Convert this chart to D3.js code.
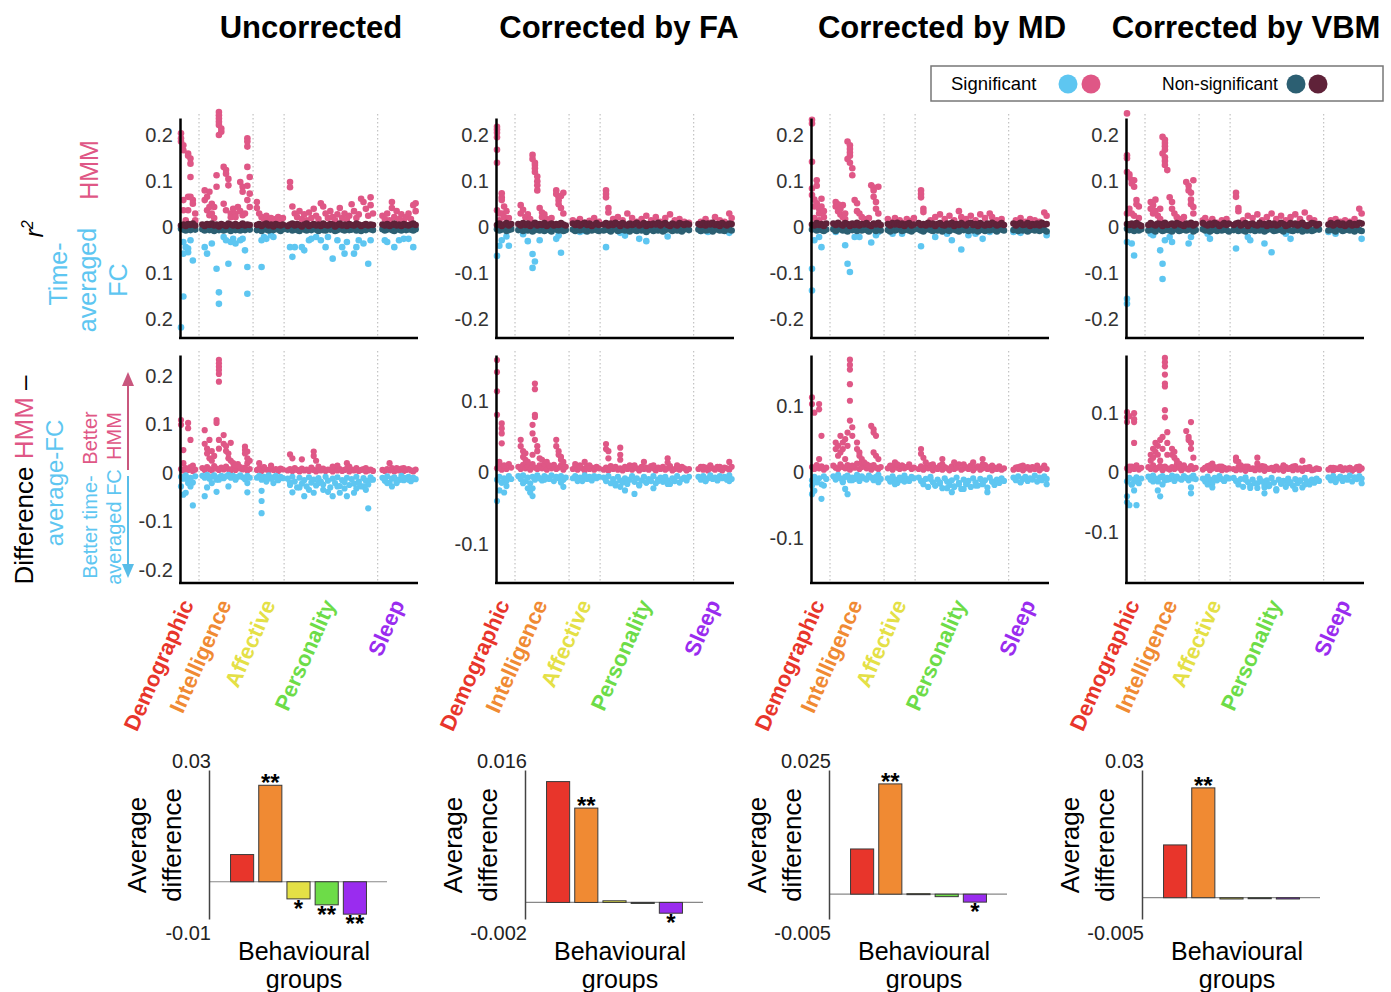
<!DOCTYPE html>
<html lang="en">
<head>
<meta charset="utf-8">
<script src="https://cdn.jsdelivr.net/npm/d3@7"></script>
<style>
    body { margin: 0; background: #fff; }
    svg text { font-family: "Liberation Sans", Arial, Helvetica, sans-serif; }
</style>
</head>
<body>
<svg id="fig" width="1391" height="992"></svg>
<script>
    // ---------- labels ----------
    const titles = ["Uncorrected", "Corrected by FA", "Corrected by MD", "Corrected by VBM"];
    const groups = ["Demographic", "Intelligence", "Affective", "Personality", "Sleep"];
    const groupColors = ["#e8352b", "#f08a33", "#e4e046", "#6ddc48", "#9a2cef"];
    // first / last item index of every behavioural group (x axis runs 0..100)
    const groupSpans = [[0, 6], [9, 29], [32, 43], [45, 81], [85, 99]];
    const dividers = [7.6, 30.4, 43.5, 83];

    // ---------- Uncorrected (values x1000) ----------
    const ucSigHmm = [[0,204],[0,193],[0,186],[1,178],[1,167],[1,59],[1,37],[2,15],[3,160],[3,155],[3,37],[4,149],[4,138],[4,109],[3,66],[5,59],[5,51],[4,66],[6,15],[6,30],
        [10,80],[10,59],[11,66],[11,37],[12,77],[12,44],[12,26],[13,51],[13,30],[14,44],[14,20],
        [16,250],[16,243],[16,236],[16,229],[16,222],[17,214],[17,207],[16,200],[15,113],[15,88],
        [18,131],[19,124],[19,116],[20,105],[20,91],[18,51],[19,37],[21,30],[21,22],
        [22,40],[23,30],[23,22],[24,44],[25,35],[25,98],[26,88],[26,77],[26,26],[27,30],
        [28,193],[28,186],[28,175],[28,131],[29,109],[28,90],[29,73],[28,59],[29,44],
        [32,55],[32,42],[33,30],[34,22],[35,18],[36,25],[37,15],[38,20],[39,12],[40,18],[41,22],[42,15],[43,20],
        [46,98],[46,87],[47,45],[48,30],[49,22],[50,35],[51,18],[52,28],[53,15],[54,32],[55,20],[56,40],[57,25],[58,18],[59,52],[60,45],[61,30],[62,20],[63,35],[64,22],[65,15],[66,28],[67,42],[68,20],[69,30],[70,18],[71,25],[72,50],[73,35],[74,20],[75,28],[76,62],[77,55],[78,40],[79,25],[80,65],[80,48],[81,30],
        [85,25],[86,18],[87,30],[88,15],[89,55],[89,42],[90,22],[91,35],[92,18],[93,28],[94,15],[95,22],[96,30],[97,18],[98,48],[99,52],[99,35]];
    const ucSigFc = [[0,217],[1,150],[1,32],[2,43],[3,54],[3,46],[5,72],[1,57],[4,28],
        [10,43],[11,57],[13,35],[15,90],[16,141],[16,166],[18,21],[19,28],[20,79],[21,32],[22,25],[23,35],[25,28],[27,50],[28,86],[28,144],[26,25],
        [34,86],[34,28],[35,21],[36,25],[38,17],[39,21],
        [46,43],[47,64],[48,43],[51,43],[52,50],[54,28],[55,25],[57,21],[59,28],[61,43],[62,21],[64,68],[66,28],[68,43],[69,57],[70,32],[73,57],[74,43],[75,28],[77,35],[79,79],[80,28],
        [86,28],[87,32],[90,43],[92,28],[94,25],[96,25],[98,43]];
    const ucNsHmm = [4,6,3,7,5,8,4,
        6,3,7,5,8,4,6,2,7,5,3,8,6,4,7,3,5,8,4,6,5,
        5,7,3,6,8,4,6,2,7,5,4,6,
        3,6,8,4,7,5,2,6,8,3,5,7,4,6,3,8,5,4,7,6,2,5,8,4,6,3,7,5,4,8,6,3,5,7,4,6,5,
        6,4,7,3,5,8,4,6,3,7,5,4,6,8,5];
    const ucNsFc = [3,5,7,4,6,3,5,
        4,7,3,6,5,8,4,6,3,7,5,4,8,3,6,5,7,4,6,3,5,
        6,4,8,3,5,7,4,6,3,5,8,4,
        5,3,7,4,6,8,3,5,7,4,6,3,5,8,4,6,7,3,5,4,8,6,3,5,7,4,6,5,3,7,4,8,5,6,3,4,6,
        4,7,5,3,6,8,4,5,7,3,6,4,5,7,4];
    const ucDiff = [[0,109],[0,99],[1,47],[1,20],[3,103],[3,92],[4,68],[5,15],[0,-28],[1,-45],[2,-41],[3,-21],[4,-28],[5,-67],[4,-14],
        [10,88],[10,60],[11,50],[11,40],[12,68],[12,30],[13,45],[13,25],[14,35],
        [16,233],[16,226],[16,219],[16,212],[16,204],[16,188],[15,109],[15,103],[16,68],[16,50],
        [18,78],[18,60],[19,55],[19,45],[20,40],[20,30],[21,62],[21,25],[22,20],[23,15],[24,18],[25,12],
        [27,54],[27,47],[27,40],[28,44],[28,30],[28,20],[29,25],
        [10,-48],[11,-30],[13,-21],[15,-39],[16,-14],[20,-28],[23,-14],[28,-40],[28,-21],
        [33,20],[35,12],[38,15],[34,-37],[34,-58],[34,-83],[36,-10],[39,-21],[41,-14],
        [46,38],[47,30],[51,28],[56,44],[56,35],[57,25],[58,13],[64,13],[66,15],[70,20],[71,13],[78,10],
        [46,-20],[47,-40],[50,-30],[52,-48],[54,-35],[56,-41],[58,-21],[60,-35],[62,-39],[64,-48],[66,-28],[67,-41],[69,-32],[70,-48],[73,-41],[74,-32],[75,-21],[77,-28],[78,-35],[79,-73],[80,-14],
        [88,20],[91,10],[94,10],[86,-14],[87,-21],[89,-28],[91,-21],[93,-14],[94,-10],[96,-14],[98,-10]];
    const ucBandPos = [8,5,10,6,12,4,7,
        10,6,12,8,5,14,9,6,11,7,13,8,5,10,6,12,9,7,11,5,8,
        6,9,4,11,7,5,10,6,8,4,9,7,
        5,8,4,10,6,3,9,5,7,4,11,6,3,8,5,9,4,7,6,3,10,5,8,4,6,9,3,7,5,10,4,6,8,3,5,7,4,
        6,4,8,5,10,3,7,5,9,4,6,8,5,3,7];
    const ucBandNeg = [-8,-12,-5,-15,-10,-20,-7,
        -6,-10,-4,-12,-8,-5,-14,-9,-6,-11,-7,-4,-10,-6,-12,-8,-5,-9,-13,-6,-10,
        -10,-6,-14,-8,-18,-5,-12,-9,-6,-15,-8,-11,
        -12,-25,-8,-18,-30,-10,-22,-15,-28,-9,-20,-14,-26,-11,-18,-24,-8,-16,-30,-12,-21,-9,-27,-15,-19,-10,-25,-13,-22,-8,-18,-28,-11,-16,-24,-9,-14,
        -10,-16,-7,-20,-12,-9,-18,-14,-6,-15,-11,-8,-17,-10,-13];

    // ---------- Corrected by FA ----------
    const faSigHmm = [[0,218],[0,212],[0,205],[0,195],[0,168],[0,140],[0,37],[1,30],[2,74],[2,65],[2,59],[3,45],[2,30],[3,22],[4,35],[5,20],[1,15],
        [10,48],[10,30],[11,38],[12,22],[13,28],[14,18],[15,157],[15,148],[16,140],[16,135],[16,128],[16,120],[17,110],[17,100],[17,91],[17,80],[18,42],[19,32],[19,22],[20,28],[21,18],[22,15],[23,20],[25,80],[25,72],[26,65],[26,58],[26,50],[27,42],[27,68],[28,75],[28,30],
        [32,15],[34,12],[35,18],[37,10],[39,14],[41,20],[43,12],
        [46,80],[46,72],[46,65],[47,42],[47,32],[49,18],[51,22],[53,15],[55,30],[57,20],[59,12],[61,18],[63,25],[65,15],[67,22],[69,12],[71,20],[73,28],[75,15],[77,18],[79,12],[81,10],
        [86,12],[88,18],[90,10],[92,22],[94,15],[96,12],[98,30],[99,20]];
    const faSigFc = [[0,62],[1,40],[2,28],[5,40],[4,20],
        [11,15],[13,30],[15,58],[16,74],[15,88],[18,28],[25,25],[26,18],[27,55],
        [35,10],[37,8],
        [46,43],[52,12],[54,18],[60,25],[63,30],[72,20],
        [86,8],[89,10],[98,12]];
    const faNsHmm = [5,8,3,6,9,4,7,
        7,4,9,5,8,3,6,10,4,7,5,9,3,6,8,4,7,5,9,6,4,
        8,5,9,4,7,10,5,8,3,6,9,5,
        6,9,4,8,5,10,7,3,9,6,4,8,5,7,10,4,6,9,3,7,5,8,6,10,4,7,9,5,3,8,6,4,9,7,5,8,6,
        7,5,9,4,8,6,10,5,7,3,9,6,4,8,7];
    const faNsFc = [4,7,5,3,8,6,4,
        6,3,8,5,7,4,9,6,3,7,5,8,4,6,9,3,5,7,4,8,6,
        5,8,4,7,3,6,9,5,7,4,6,8,
        7,4,6,9,5,3,8,6,4,7,5,9,3,6,8,4,7,5,10,6,3,8,5,7,4,9,6,3,5,8,4,7,6,9,5,3,6,
        5,8,4,7,6,3,9,5,4,7,6,8,3,5,7];
    const faDiff = [[0,158],[0,141],[0,114],[0,81],[2,69],[2,62],[2,55],[2,41],[1,15],[3,10],[0,-40],[1,-25],[2,-14],[3,-28],[4,-19],
        [10,46],[10,37],[11,30],[11,22],[12,27],[12,18],[13,15],
        [16,125],[16,117],[16,81],[16,78],[15,67],[15,55],[16,46],[17,37],[17,30],[15,25],[18,20],
        [19,18],[20,12],[21,15],[22,10],
        [25,46],[25,37],[26,30],[26,25],[27,22],[27,18],[28,15],
        [11,-15],[13,-22],[14,-28],[15,-33],[15,-22],[18,-8],[20,-10],[27,-14],[28,-20],
        [33,12],[35,8],[37,15],[39,10],[34,-10],[36,-12],[40,-8],
        [46,40],[46,33],[47,30],[47,20],[52,35],[52,25],[52,18],[56,10],[62,15],[66,10],[72,20],[72,14],[76,10],
        [50,-15],[52,-20],[54,-25],[55,-12],[58,-30],[60,-18],[63,-14],[66,-22],[68,-12],[72,-16],
        [87,8],[90,10],[94,8],[98,15],[88,-12],[93,-10],[98,-12]];
    const faBandPos = [6,10,4,8,5,12,7,
        8,5,11,6,9,4,12,7,5,10,6,8,4,9,6,11,5,7,10,4,8,
        5,8,4,10,6,3,9,5,7,4,8,6,
        4,7,3,9,5,8,4,6,3,8,5,7,4,10,6,3,8,5,7,4,9,6,3,7,5,8,4,6,9,3,5,7,4,8,6,3,5,
        5,8,4,7,3,9,6,4,8,5,3,7,6,4,8];
    const faBandNeg = [-10,-6,-14,-8,-12,-5,-9,
        -5,-9,-4,-12,-7,-15,-6,-10,-4,-8,-11,-5,-7,-9,-4,-12,-6,-8,-5,-10,-7,
        -8,-5,-12,-7,-10,-4,-9,-6,-11,-5,-8,-6,
        -7,-12,-5,-15,-9,-18,-6,-11,-14,-8,-16,-10,-5,-13,-8,-17,-11,-6,-14,-9,-12,-5,-15,-10,-7,-13,-6,-11,-16,-8,-12,-5,-14,-9,-7,-11,-6,
        -6,-10,-5,-12,-8,-4,-9,-7,-11,-5,-8,-6,-10,-4,-9];

    // ---------- Corrected by MD ----------
    const mdSigHmm = [[0,233],[0,225],[0,142],[0,84],[0,70],[1,60],[1,45],[2,102],[2,90],[2,52],[3,40],[3,30],[4,62],[4,45],[5,35],[5,22],[1,20],[3,15],
        [10,55],[10,45],[11,50],[11,35],[12,40],[12,28],[13,48],[13,22],[14,30],[14,18],
        [15,186],[16,178],[16,170],[16,162],[16,155],[15,148],[16,140],[17,128],[17,113],
        [18,59],[19,52],[19,35],[20,30],[21,22],[22,18],[23,15],[24,20],
        [25,91],[26,86],[26,80],[26,66],[27,55],[27,40],[28,88],[28,30],
        [32,18],[33,12],[35,20],[37,15],[38,10],[40,18],[42,14],[43,20],
        [46,80],[46,72],[46,65],[47,40],[47,33],[50,15],[52,22],[54,28],[56,18],[58,25],[60,15],[62,35],[63,22],[65,18],[67,25],[69,15],[71,28],[73,20],[75,30],[76,22],[78,15],[80,18],
        [86,15],[88,20],[90,12],[92,18],[94,15],[96,12],[98,32],[99,25]];
    const mdSigFc = [[0,90],[0,137],[1,28],[3,21],[4,43],
        [10,10],[14,39],[15,79],[16,97],[18,21],[20,21],[25,33],[27,17],[28,10],
        [34,14],[38,14],
        [46,41],[52,21],[57,14],[59,28],[63,48],[66,17],[69,14],[72,25],[75,10],
        [85,10],[88,12],[99,17]];
    const mdNsHmm = [6,4,9,5,7,3,8,
        8,5,10,6,4,9,7,3,8,5,10,4,7,6,9,5,3,8,6,10,5,
        7,4,9,6,10,5,8,3,7,9,4,6,
        9,5,7,4,10,6,8,3,7,9,5,4,8,6,10,3,7,5,9,6,4,8,10,5,7,3,9,6,4,8,5,10,7,4,6,9,5,
        8,4,7,10,5,6,9,3,7,5,8,4,10,6,7];
    const mdNsFc = [5,3,7,4,6,8,5,
        4,8,5,3,7,6,9,4,6,3,8,5,7,4,6,9,3,5,8,4,7,
        6,9,4,7,5,3,8,6,4,7,9,5,
        4,7,9,5,3,6,8,4,7,5,9,3,6,8,4,5,7,9,3,6,4,8,5,7,3,9,6,4,8,5,7,3,6,9,4,5,7,
        6,3,8,5,7,4,9,6,3,7,5,8,4,6,9];
    const mdDiff = [[0,113],[0,103],[1,90],[3,103],[3,95],[4,55],[3,20],[0,-20],[0,-33],[1,-28],[2,-15],[4,-40],[5,-20],
        [10,45],[10,35],[11,40],[11,25],[12,55],[12,30],[13,45],[13,35],[14,50],[14,20],[15,60],[15,40],
        [16,170],[16,162],[16,155],[16,133],[16,108],[16,78],[17,68],[17,55],[17,10],
        [19,45],[19,35],[20,30],[20,25],[21,20],[21,15],[22,15],[23,12],[24,10],
        [25,70],[26,65],[26,60],[27,55],[26,30],[27,25],[28,20],
        [10,-10],[13,-15],[14,-25],[15,-33],[17,-12],[19,-8],[27,-10],[28,-15],
        [33,10],[35,15],[36,12],[38,10],[40,8],[33,-12],[35,-18],[37,-10],[39,-14],
        [46,35],[46,28],[47,22],[48,15],[51,12],[55,20],[55,12],[60,15],[64,12],[68,15],[72,20],[72,12],[76,10],
        [50,-10],[52,-20],[54,-15],[57,-24],[59,-30],[60,-22],[62,-18],[64,-25],[65,-14],[69,-20],[72,-18],[74,-30],[76,-14],
        [87,8],[89,10],[93,8],[98,10],[88,-15],[92,-10],[99,-18]];
    const mdBandPos = [8,5,11,6,9,4,7,
        10,7,5,12,8,6,11,4,9,7,13,5,8,10,6,9,4,11,7,5,8,
        6,9,4,11,7,5,10,6,8,12,5,7,
        5,9,4,8,6,11,3,7,5,10,4,8,6,3,9,5,7,12,4,6,8,5,10,3,7,9,4,6,11,5,8,3,7,5,9,4,6,
        4,7,5,9,3,6,8,4,7,5,10,3,6,8,5];
    const mdBandNeg = [-12,-7,-15,-9,-18,-6,-10,
        -6,-11,-4,-9,-14,-7,-5,-12,-8,-10,-4,-13,-6,-9,-11,-5,-8,-12,-7,-4,-10,
        -9,-14,-6,-11,-16,-8,-12,-5,-10,-13,-7,-9,
        -8,-13,-18,-10,-22,-7,-15,-20,-11,-17,-24,-9,-14,-19,-12,-21,-8,-16,-25,-11,-18,-13,-22,-9,-15,-20,-10,-17,-12,-23,-8,-14,-19,-11,-16,-9,-13,
        -8,-12,-6,-15,-10,-7,-13,-9,-11,-5,-14,-8,-12,-6,-10];

    // ---------- Corrected by VBM ----------
    const vbmSigHmm = [[0,247],[0,156],[0,150],[0,120],[1,115],[1,109],[2,102],[2,95],[3,102],[3,88],[4,59],[4,50],[1,40],[2,30],[3,25],[5,45],[5,20],[0,30],
        [10,55],[10,40],[11,48],[11,30],[12,60],[12,35],[13,25],[14,40],[14,18],
        [15,196],[16,190],[16,183],[16,176],[16,168],[15,160],[16,152],[16,144],[16,135],[17,124],
        [18,65],[19,55],[19,40],[20,30],[21,22],[22,18],[23,15],[24,22],
        [25,98],[26,90],[26,80],[27,75],[27,60],[27,50],[28,102],[28,44],[28,30],
        [32,15],[33,20],[35,12],[36,18],[38,10],[40,15],[42,18],
        [46,75],[46,66],[47,42],[47,35],[49,15],[51,25],[53,20],[55,28],[57,15],[59,22],[61,30],[63,18],[65,25],[67,15],[69,22],[71,28],[73,18],[75,32],[77,20],[79,15],
        [86,15],[88,18],[90,12],[92,15],[94,12],[96,18],[98,40],[99,30]];
    const vbmSigFc = [[0,32],[0,155],[0,166],[2,35],[3,61],
        [10,14],[11,17],[14,50],[15,79],[15,112],[16,28],[18,21],[19,32],[26,35],[27,21],
        [34,14],[35,25],
        [46,46],[51,21],[52,28],[58,35],[61,54],[67,14],[69,25],
        [85,10],[88,14],[99,25]];
    const vbmNsHmm = [7,5,8,4,9,6,3,
        5,9,6,4,8,7,3,10,5,6,8,4,9,7,5,3,8,6,10,4,7,
        9,6,4,8,5,10,7,3,6,9,5,8,
        5,8,10,4,6,9,3,7,8,5,4,10,6,7,3,9,5,8,4,6,10,7,3,5,9,6,8,4,7,10,5,3,6,9,8,4,7,
        6,9,4,7,10,5,8,3,6,9,4,7,5,10,8];
    const vbmNsFc = [3,6,4,8,5,7,4,
        7,4,6,9,3,5,8,6,4,7,9,3,5,8,6,4,7,5,3,9,6,
        4,7,5,9,6,3,8,4,7,5,6,9,
        6,3,8,5,7,9,4,6,3,8,5,7,4,9,6,3,5,8,7,4,6,9,3,5,7,8,4,6,3,9,5,7,4,8,6,3,5,
        7,4,6,9,3,5,8,6,4,7,5,9,3,6,8];
    const vbmDiff = [[0,102],[0,93],[0,85],[1,95],[3,100],[3,90],[3,85],[3,50],[1,10],[0,-40],[0,-50],[1,-55],[2,-20],[3,-30],[4,-55],[4,-15],
        [10,30],[10,20],[11,40],[11,25],[12,50],[12,35],[13,45],[13,30],[14,55],[14,20],[15,60],[15,40],
        [16,193],[16,186],[16,179],[16,165],[16,150],[16,145],[16,105],[16,93],[17,68],[17,50],[17,30],
        [19,40],[19,30],[20,35],[20,25],[21,20],[22,15],[23,10],[24,12],
        [25,70],[26,60],[26,55],[27,50],[27,40],[27,85],[28,25],
        [10,-8],[11,-15],[13,-30],[14,-40],[15,-20],[17,-12],[27,-25],[27,-35],[28,-10],
        [33,8],[35,12],[36,15],[38,8],[40,10],[33,-12],[34,-20],[36,-25],[38,-10],[41,-14],
        [46,25],[46,20],[47,18],[48,12],[50,10],[55,25],[55,15],[58,10],[62,8],[66,12],[70,10],[74,20],[76,8],
        [50,-12],[52,-26],[55,-18],[58,-35],[58,-25],[60,-20],[63,-30],[65,-15],[68,-18],[71,-28],[73,-14],[75,-20],
        [87,8],[90,6],[94,8],[98,10],[88,-15],[92,-10],[99,-18]];
    const vbmBandPos = [7,4,10,6,12,5,8,
        9,6,12,5,8,11,4,10,7,5,9,6,13,8,4,10,7,5,11,6,8,
        5,8,11,4,7,9,6,10,4,8,5,7,
        6,4,9,5,8,3,10,6,7,4,9,5,11,3,7,6,8,4,10,5,7,3,9,6,8,4,11,5,7,3,8,6,9,4,5,7,6,
        5,8,3,7,6,9,4,7,5,8,3,6,9,4,7];
    const vbmBandNeg = [-15,-9,-20,-12,-8,-18,-10,
        -7,-12,-5,-10,-15,-8,-6,-13,-9,-11,-5,-14,-7,-10,-12,-6,-9,-13,-8,-5,-11,
        -10,-15,-7,-12,-18,-9,-13,-6,-11,-14,-8,-10,
        -9,-14,-20,-11,-24,-8,-16,-22,-12,-18,-26,-10,-15,-21,-13,-23,-9,-17,-28,-12,-19,-14,-24,-10,-16,-22,-11,-18,-13,-25,-9,-15,-20,-12,-17,-10,-14,
        -8,-13,-6,-16,-10,-7,-14,-9,-12,-5,-15,-8,-11,-6,-10];

    // ---------- average difference bars ----------
    const barsUC = [0.0073, 0.0259, -0.0046, -0.0062, -0.0087];
    const barsFA = [0.0146, 0.0114, 0.0002, -0.0001, -0.0013];
    const barsMD = [0.0091, 0.0222, 0.0001, -0.0005, -0.0016];
    const barsVBM = [0.0124, 0.0258, -0.0003, -0.0002, -0.0003];
    const starsUC = ["", "**", "*", "**", "**"];
    const starsFA = ["", "**", "", "", "*"];
    const starsMD = ["", "**", "", "", "*"];
    const starsVBM = ["", "**", "", "", ""];
    const barLimits = [[-0.01, 0.03], [-0.002, 0.016], [-0.005, 0.025], [-0.005, 0.03]];
    const barLimitLabels = [["-0.01", "0.03"], ["-0.002", "0.016"], ["-0.005", "0.025"], ["-0.005", "0.03"]];

    const diffDomains = [[-0.227, 0.243], [-0.155, 0.165], [-0.167, 0.177], [-0.186, 0.198]];
    const diffTicks = [[-0.2, -0.1, 0, 0.1, 0.2], [-0.1, 0, 0.1], [-0.1, 0, 0.1], [-0.1, 0, 0.1]];
    const topTicks = [-0.2, -0.1, 0, 0.1, 0.2];

    // ---------- colours ----------
    const pink = "#df5786", blue = "#5ec6f1", maroon = "#5f2239", teal = "#2c5f72";

    const items = groupSpans.flatMap(s => d3.range(s[0], s[1] + 1));
    const k = v => v / 1000;

    const cols = [
        {sigH: ucSigHmm, sigF: ucSigFc, nsH: ucNsHmm, nsF: ucNsFc, diff: ucDiff, bp: ucBandPos, bn: ucBandNeg, bars: barsUC, stars: starsUC},
        {sigH: faSigHmm, sigF: faSigFc, nsH: faNsHmm, nsF: faNsFc, diff: faDiff, bp: faBandPos, bn: faBandNeg, bars: barsFA, stars: starsFA},
        {sigH: mdSigHmm, sigF: mdSigFc, nsH: mdNsHmm, nsF: mdNsFc, diff: mdDiff, bp: mdBandPos, bn: mdBandNeg, bars: barsMD, stars: starsMD},
        {sigH: vbmSigHmm, sigF: vbmSigFc, nsH: vbmNsHmm, nsF: vbmNsFc, diff: vbmDiff, bp: vbmBandPos, bn: vbmBandNeg, bars: barsVBM, stars: starsVBM}
    ];
    const axisXs = [180, 496, 811, 1126];
    const barAxisXs = [209, 525, 829, 1142];
    const titleX = [311, 619, 942, 1246];

    const svg = d3.select("#fig");

    function dots(g, data, x, y, color, r) {
        g.append("g").selectAll("circle")
            .data(data)
            .join("circle")
            .attr("cx", d => x(d[0]))
            .attr("cy", d => y(d[1]))
            .attr("r", r)
            .attr("fill", color);
    }

    function frame(g, x, y, ticks, fmt) {
        g.append("g").selectAll("line")
            .data(dividers)
            .join("line")
            .attr("x1", d => x(d)).attr("x2", d => x(d))
            .attr("y1", y.range()[1] - 4).attr("y2", y.range()[0])
            .attr("stroke", "#b5b5b5")
            .attr("stroke-width", 1)
            .attr("stroke-dasharray", "1.5,2.5");
        return function () {
            const ax = g.append("g")
                .attr("transform", "translate(" + (x.range()[0] - 1) + ",0)")
                .call(d3.axisLeft(y).tickValues(ticks).tickFormat(fmt).tickSize(0).tickSizeOuter(0).tickPadding(7));
            ax.select(".domain").attr("stroke", "#000").attr("stroke-width", 2.5);
            ax.selectAll("text").attr("font-size", 20).attr("fill", "#333");
            g.append("line")
                .attr("x1", x.range()[0] - 2).attr("x2", x.range()[1])
                .attr("y1", y.range()[0]).attr("y2", y.range()[0])
                .attr("stroke", "#000").attr("stroke-width", 2.5);
        };
    }

    cols.forEach((c, ci) => {
        const ax0 = axisXs[ci];
        const x = d3.scaleLinear().domain([0, 100]).range([ax0 + 1, ax0 + 238]);

        // title
        svg.append("text")
            .attr("x", titleX[ci]).attr("y", 38)
            .attr("text-anchor", "middle")
            .attr("font-size", 31).attr("font-weight", "bold")
            .text(titles[ci]);

        // --- r2 panel ---
        const yTop = d3.scaleLinear().domain([-0.24, 0.237]).range([338, 118]);
        const gTop = svg.append("g");
        const topFmt = ci === 0 ? (d => d === 0 ? "0" : String(Math.abs(d))) : (d => d === 0 ? "0" : String(d));
        const finishTop = frame(gTop, x, yTop, topTicks, topFmt);
        dots(gTop, c.sigH.map(d => [d[0], k(d[1])]), x, yTop, pink, 3.3);
        dots(gTop, c.sigF.map(d => [d[0], -k(d[1])]), x, yTop, blue, 3.3);
        dots(gTop, items.map((it, i) => [it, -k(c.nsF[i])]), x, yTop, teal, 3.3);
        dots(gTop, items.map((it, i) => [it, k(c.nsH[i])]), x, yTop, maroon, 3.3);
        finishTop();

        // --- difference panel ---
        const yDiff = d3.scaleLinear().domain(diffDomains[ci]).range([583, 355]);
        const gDiff = svg.append("g");
        const finishDiff = frame(gDiff, x, yDiff, diffTicks[ci], d => d === 0 ? "0" : String(d));
        dots(gDiff, items.map((it, i) => [it, k(c.bp[i])]), x, yDiff, pink, 3.1);
        dots(gDiff, c.diff.filter(d => d[1] > 0).map(d => [d[0], k(d[1])]), x, yDiff, pink, 3.1);
        dots(gDiff, items.map((it, i) => [it, k(c.bn[i])]), x, yDiff, blue, 3.1);
        dots(gDiff, c.diff.filter(d => d[1] < 0).map(d => [d[0], k(d[1])]), x, yDiff, blue, 3.1);
        finishDiff();

        // --- group labels ---
        svg.append("g").selectAll("text")
            .data(groups)
            .join("text")
            .attr("transform", (d, i) => {
                const cx = x((groupSpans[i][0] + groupSpans[i][1]) / 2) + 6;
                return "translate(" + cx + ",604) rotate(-66)";
            })
            .attr("text-anchor", "end")
            .attr("font-size", 22).attr("font-weight", "bold")
            .attr("fill", (d, i) => groupColors[i])
            .text(d => d);

        // --- bar chart ---
        const bx0 = barAxisXs[ci];
        const yB = d3.scaleLinear().domain(barLimits[ci]).range([919, 770]);
        const xB = d3.scaleBand().domain(groups).range([bx0 + 19, bx0 + 160]).paddingInner(0.18).paddingOuter(0.09);
        const gB = svg.append("g");
        gB.append("line")
            .attr("x1", bx0).attr("x2", bx0 + 178)
            .attr("y1", yB(0)).attr("y2", yB(0))
            .attr("stroke", "#888").attr("stroke-width", 1.2);
        gB.selectAll("rect")
            .data(c.bars)
            .join("rect")
            .attr("x", (d, i) => xB(groups[i]))
            .attr("width", xB.bandwidth())
            .attr("y", d => Math.min(yB(d), yB(0)))
            .attr("height", d => Math.max(1, Math.abs(yB(d) - yB(0))))
            .attr("fill", (d, i) => groupColors[i])
            .attr("stroke", "#3a3a3a").attr("stroke-width", 1);
        gB.selectAll(".star")
            .data(c.bars)
            .join("text")
            .attr("class", "star")
            .attr("x", (d, i) => xB(groups[i]) + xB.bandwidth() / 2)
            .attr("y", d => d >= 0 ? yB(d) + 6 : yB(d) + 18)
            .attr("text-anchor", "middle")
            .attr("font-size", 24).attr("font-weight", "bold")
            .text((d, i) => c.stars[i]);
        const axB = gB.append("g")
            .attr("transform", "translate(" + bx0 + ",0)")
            .call(d3.axisLeft(yB).tickValues([]).tickSizeOuter(0));
        axB.select(".domain").attr("stroke", "#444").attr("stroke-width", 1.5);
        gB.selectAll(".lim")
            .data(barLimitLabels[ci])
            .join("text")
            .attr("class", "lim")
            .attr("x", bx0 + 2)
            .attr("y", (d, i) => i === 0 ? yB.range()[0] + 21 : yB.range()[1] - 2)
            .attr("text-anchor", "end")
            .attr("font-size", 20).attr("fill", "#222")
            .text(d => d);
        [["Average", -63], ["difference", -28]].forEach(([t, dx]) => {
            gB.append("text")
                .attr("transform", "translate(" + (bx0 + dx) + ",845) rotate(-90)")
                .attr("text-anchor", "middle")
                .attr("font-size", 26)
                .text(t);
        });
        [["Behavioural", 960], ["groups", 988]].forEach(([t, yy]) => {
            gB.append("text")
                .attr("x", bx0 + 95).attr("y", yy)
                .attr("text-anchor", "middle")
                .attr("font-size", 25)
                .text(t);
        });
    });

    // ---------- left side labels ----------
    function vtext(x, y, size, parts, anchor) {
        const t = svg.append("text")
            .attr("transform", "translate(" + x + "," + y + ") rotate(-90)")
            .attr("text-anchor", anchor || "middle")
            .attr("font-size", size);
        parts.forEach(p => t.append("tspan").attr("fill", p[1]).text(p[0]));
        return t;
    }
    const r2 = svg.append("text")
        .attr("transform", "translate(43,229) rotate(-90)")
        .attr("text-anchor", "middle")
        .attr("font-size", 25).attr("font-style", "italic");
    r2.append("tspan").text("r");
    r2.append("tspan").attr("font-size", 16).attr("dy", -10).text("2");
    vtext(98, 170, 25, [["HMM", pink]]);
    vtext(67, 274, 25, [["Time-", blue]]);
    vtext(96, 280, 25, [["averaged", blue]]);
    vtext(127, 280, 25, [["FC", blue]]);

    vtext(33, 480, 26, [["Difference ", "#000"], ["HMM", pink], [" \u2013", "#000"]]);
    vtext(63, 483, 24, [["average-FC", blue]]);
    vtext(97, 438, 20, [["Better", pink]]);
    vtext(121, 436, 20, [["HMM", pink]]);
    vtext(97, 527, 20, [["Better time-", blue]]);
    vtext(121, 527, 20, [["averaged FC", blue]]);

    // arrows
    svg.append("line").attr("x1", 128).attr("x2", 128).attr("y1", 470).attr("y2", 384)
        .attr("stroke", "#c9577e").attr("stroke-width", 2);
    svg.append("path").attr("d", "M122,386 L128,372 L134,386 Z").attr("fill", "#c9577e");
    svg.append("line").attr("x1", 128).attr("x2", 128).attr("y1", 476).attr("y2", 566)
        .attr("stroke", "#58bde8").attr("stroke-width", 2);
    svg.append("path").attr("d", "M122,564 L128,578 L134,564 Z").attr("fill", "#58bde8");

    // ---------- legend ----------
    const lg = svg.append("g");
    lg.append("rect").attr("x", 931).attr("y", 66).attr("width", 452).attr("height", 35)
        .attr("fill", "#fff").attr("stroke", "#777").attr("stroke-width", 1.5);
    lg.append("text").attr("x", 951).attr("y", 90).attr("font-size", 18.5).text("Significant");
    lg.append("text").attr("x", 1162).attr("y", 90).attr("font-size", 17.5).text("Non-significant");
    [[1068, blue], [1091, pink], [1296, teal], [1318, maroon]].forEach(([cx, col]) => {
        lg.append("circle").attr("cx", cx).attr("cy", 84).attr("r", 9.5).attr("fill", col);
    });
</script>
</body>
</html>
